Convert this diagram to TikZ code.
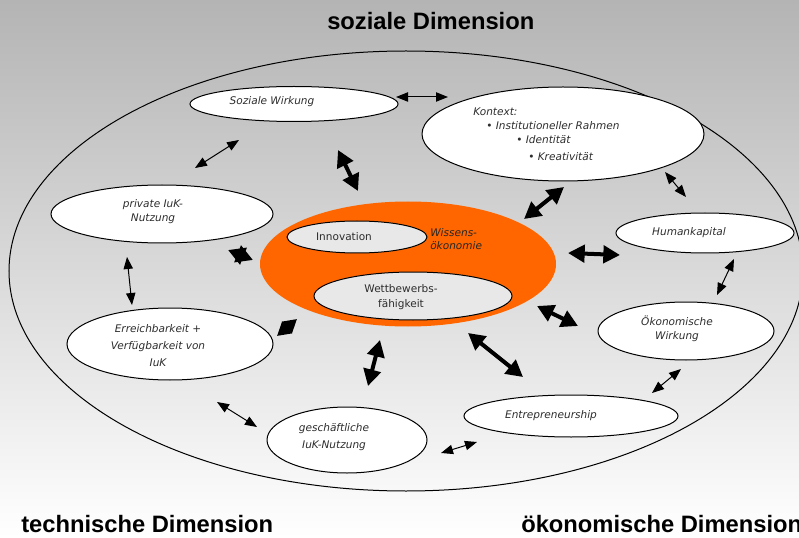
\documentclass[tikz,border=0pt]{standalone}
\usepackage{fontspec}
\setmainfont{DejaVu Sans}
\newfontfamily\titlefont{Liberation Sans}
\usetikzlibrary{shapes.geometric,arrows.meta}
\newlength\pxlen
\setlength\pxlen{0.75pt}
\definecolor{WissensOrange}{RGB}{255,102,0}
\definecolor{BgTop}{RGB}{180,180,180}
\definecolor{KernGray}{RGB}{232,232,232}
\definecolor{TxtGray}{RGB}{45,45,45}

\begin{document}
\begin{tikzpicture}[x=\pxlen,y=-\pxlen,
  oval/.style 2 args={ellipse,draw,line width=0.75pt,fill=white,inner sep=0pt,minimum width=#1*\pxlen,minimum height=#2*\pxlen},
  txt/.style={font=\fontsize{7.9}{#1}\selectfont\itshape,text=TxtGray,align=center,inner sep=0pt},
  txt/.default=10.5,
  kerntxt/.style={font=\fontsize{7.9}{#1}\selectfont,text=TxtGray,align=center,inner sep=0pt},
  kerntxt/.default=11.25,
  dimtxt/.style={font=\titlefont\bfseries\fontsize{17.8}{20}\selectfont,anchor=base west,inner sep=0pt},
  thinarr/.style={line width=0.75pt,>={Triangle[length=9pt,width=7pt]},<->},
  thickarr/.style={line width=3pt,>={Triangle[length=12.5pt,width=13pt]},<->}]
\useasboundingbox (0,0) rectangle (799,538);
\shade[top color=BgTop,bottom color=white] (0,0) rectangle (799,538);

% outer ring and the core
\node[oval={794}{440},fill=none] (frame) at (406,271) {};
\node[ellipse,fill=WissensOrange,minimum width=296*\pxlen,minimum height=125*\pxlen] (core) at (408,264) {};
\node[oval={140}{32},fill=KernGray] (inno) at (357,237) {};
\node[oval={198}{48},fill=KernGray] (wett) at (413,296) {};

% the outer factors
\node[oval={208}{35}] (soz) at (294,104) {};
\node[oval={282}{94}] (ctx) at (563,134) {};
\node[oval={222}{58}] (priv) at (162,214) {};
\node[oval={178}{40}] (hum) at (705,233) {};
\node[oval={206}{72}] (err) at (170,344) {};
\node[oval={176}{58}] (oek) at (686,331) {};
\node[oval={214}{42}] (ent) at (571,416) {};
\node[oval={160}{66}] (ges) at (347,440) {};

% labels
\node[txt] (soz-t) at (272,102) {Soziale Wirkung};
\node[txt,anchor=west] (ctx-t0) at (473,112) {Kontext:};
\node[txt,anchor=west] (ctx-t1) at (486,126) {• Institutioneller Rahmen};
\node[txt,anchor=west] (ctx-t2) at (516,140) {• Identität};
\node[txt,anchor=west] (ctx-t3) at (528,157) {• Kreativität};
\node[txt] (priv-t) at (153,212) {private IuK-\\Nutzung};
\node[txt] (hum-t) at (689,233) {Humankapital};
\node[txt=12.75] (err-t) at (158,346) {Erreichbarkeit +\\Verfügbarkeit von\\IuK};
\node[txt] (oek-t) at (677,329) {Ökonomische\\Wirkung};
\node[txt] (ent-t) at (551,416) {Entrepreneurship};
\node[txt=12.75] (ges-t) at (334,437) {geschäftliche\\IuK-Nutzung};
\node[kerntxt] (inno-t) at (344,237) {Innovation};
\node[kerntxt] (wett-t) at (401,297) {Wettbewerbs-\\fähigkeit};
\node[txt=9.75,anchor=west,align=left,text=black!85] (wiss-t) at (430,239) {Wissens-\\ökonomie};

% arrow ends
\foreach \n/\xa/\ya/\xb/\yb in {sc/396/97/448/97, sp/239/140/195/168, ch/665/172/686/197,
  ho/734/259/717/295, pe/127/257/132/305, eg/217/402/257/427, ge/441/453/477/442,
  eo/652/393/681/369, soz/338/150/358/191, ctx/564/187/524/219, hum/620/255/568/253,
  priv/228/250/253/260, ges/380/340/368/386, ent/468/333/523/377, oek/537/306/578/326,
  err/277/336/297/319} {
  \coordinate (\n-a) at (\xa,\ya);
  \coordinate (\n-b) at (\xb,\yb);
}
\foreach \n in {sc,sp,ch,ho,pe,eg,ge,eo}
  \draw[thinarr] (\n-a) -- (\n-b);
\foreach \n in {soz,ctx,hum,priv,ges,ent,oek}
  \draw[thickarr] (\n-a) -- (\n-b);
\draw[thickarr,>={Triangle[length=10pt,width=11pt]}] (err-a) -- (err-b);

% the three dimensions
\node[dimtxt] (dim-s) at (327,30) {soziale Dimension};
\node[dimtxt] (dim-t) at (21,532) {technische Dimension};
\node[dimtxt] (dim-o) at (521,532) {ökonomische Dimension};
\end{tikzpicture}
\end{document}
